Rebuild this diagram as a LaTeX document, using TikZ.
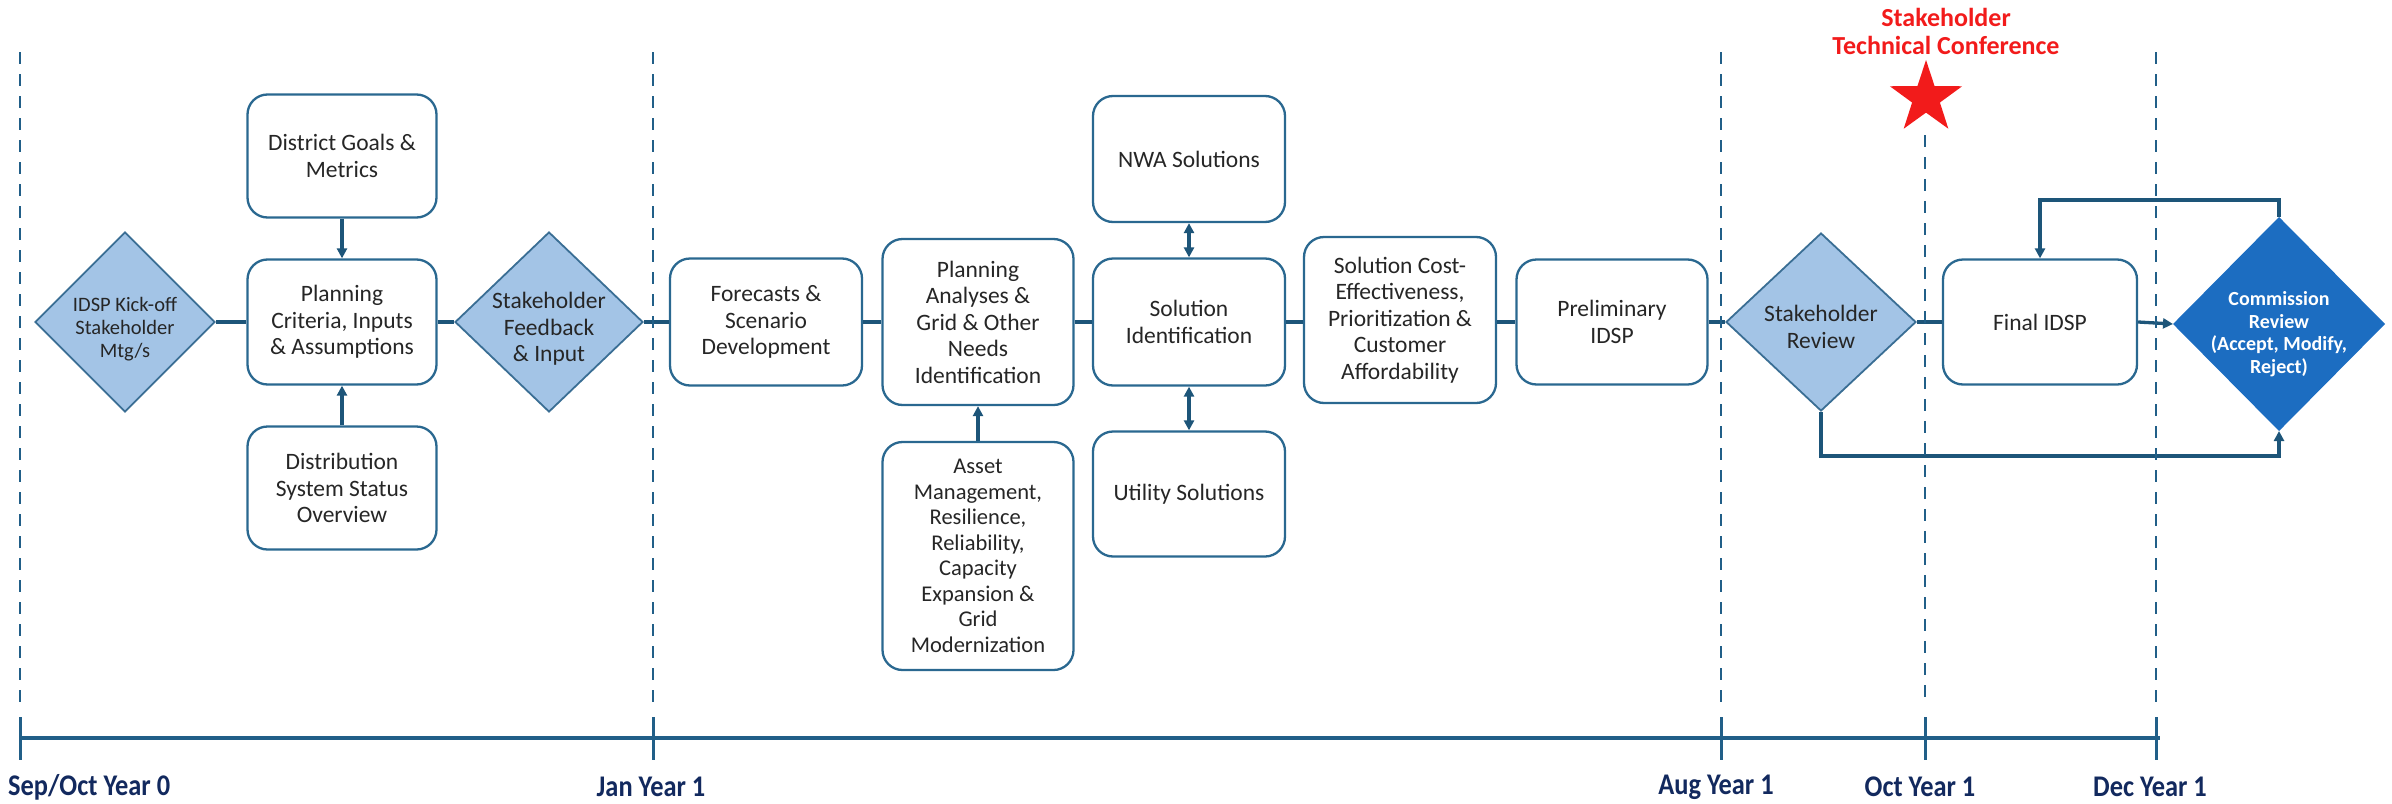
\documentclass[tikz,border=0pt]{standalone}
\usepackage{fontspec}
\setmainfont{Carlito}
\newfontfamily\datefont[FakeStretch=0.88]{Carlito}
\usetikzlibrary{shapes.geometric,arrows.meta}
\definecolor{bordc}{HTML}{2A6890}
\definecolor{linec}{HTML}{1D5579}
\definecolor{dashc}{HTML}{215F88}
\definecolor{lightfill}{HTML}{A3C4E6}
\definecolor{lightbord}{HTML}{3A6E94}
\definecolor{darkfill}{HTML}{1C6DC1}
\definecolor{navy}{HTML}{12295E}
\definecolor{txt}{HTML}{262626}
\definecolor{redc}{HTML}{F21B1B}
\tikzset{
  box/.style={draw=bordc, line width=2.3pt, rounded corners=20pt, fill=white, text=txt,
    align=center, font=\fontsize{23.5}{26.5}\selectfont, inner sep=0pt},
  dia/.style={shape=diamond, draw=lightbord, line width=1.8pt, fill=lightfill, inner sep=0pt},
  dtext/.style={text=txt, align=center, font=\fontsize{23.5}{26.5}\selectfont},
  conn/.style={draw=linec, line width=3.3pt},
  arr/.style={conn, -{Triangle[length=10pt,width=10pt]}},
  darr/.style={conn, {Triangle[length=10pt,width=10pt]}-{Triangle[length=10pt,width=10pt]}},
  vdash/.style={draw=dashc, line width=2.5pt, dash pattern=on 12pt off 10pt},
  tline/.style={draw=dashc, line width=3.5pt},
  datelbl/.style={text=navy, font=\datefont\fontsize{30}{34}\selectfont\bfseries, inner sep=0pt},
}
\begin{document}
\begin{tikzpicture}[x=1pt,y=-1pt]
\useasboundingbox (0,0) rectangle (2392,803);

% nodes
\node[dia, minimum width=180pt, minimum height=180pt,
  label={[text=txt, align=center, font=\fontsize{20.5}{23}\selectfont, yshift=-7pt]center:{IDSP Kick-off\\Stakeholder\\Mtg/s}}]
  (kick) at (125,322) {};
\node[box, minimum width=189pt, minimum height=123pt] (goals) at (342,156) {District Goals \&\\Metrics};
\node[box, minimum width=189pt, minimum height=125pt] (crit) at (342,322) {Planning\\Criteria, Inputs\\\& Assumptions};
\node[box, minimum width=189pt, minimum height=123pt] (dist) at (342,488) {Distribution\\System Status\\Overview};
\node[dia, minimum width=188pt, minimum height=180pt,
  label={[dtext, yshift=-7pt]center:{Stakeholder\\Feedback\\\& Input}}]
  (feed) at (549,322) {};
\node[box, minimum width=192pt, minimum height=127pt] (fore) at (766,322) {Forecasts \&\\Scenario\\Development};
\node[box, minimum width=191pt, minimum height=166pt] (pa) at (978,322) {Planning\\Analyses \&\\Grid \& Other\\Needs\\Identification};
\node[box, minimum width=191pt, minimum height=228pt, font=\fontsize{22.5}{25.5}\selectfont] (asset) at (978,556)
  {Asset\\Management,\\Resilience,\\Reliability,\\Capacity\\Expansion \&\\Grid\\Modernization};
\node[box, minimum width=192pt, minimum height=126pt] (nwa) at (1189,159) {NWA Solutions};
\node[box, minimum width=192pt, minimum height=127pt] (sid) at (1189,322) {Solution\\Identification};
\node[box, minimum width=192pt, minimum height=125pt] (util) at (1189,494) {Utility Solutions};
\node[box, minimum width=192pt, minimum height=166pt] (cost) at (1400,320) {Solution Cost-\\Effectiveness,\\Prioritization \&\\Customer\\Affordability};
\node[box, minimum width=191pt, minimum height=125pt] (prelim) at (1612,322) {Preliminary\\IDSP};
\node[dia, minimum width=190pt, minimum height=178pt,
  label={[dtext, yshift=-5pt]center:{Stakeholder\\Review}}]
  (srev) at (1821,322) {};
\node[box, minimum width=194pt, minimum height=125pt] (final) at (2040,322) {Final IDSP};
\node[shape=diamond, draw=darkfill, line width=2pt, fill=darkfill, inner sep=0pt,
  minimum width=210pt, minimum height=212pt,
  label={[text=white, align=center, font=\fontsize{20}{22.5}\selectfont\bfseries, yshift=-10pt]center:{Commission\\Review\\(Accept, Modify,\\Reject)}}]
  (comm) at (2279,324) {};

% main flow
\draw[conn] (kick.east) -- (crit.west);
\draw[conn] (crit.east) -- (feed.west);
\draw[conn] (feed.east) -- (fore.west);
\draw[conn] (fore.east) -- (pa.west);
\draw[conn] (pa.east) -- (sid.west);
\draw[conn] (sid.east) -- (cost.west |- sid.east);
\draw[conn] (cost.east |- prelim.west) -- (prelim.west);
\draw[conn] (prelim.east) -- (srev.west);
\draw[conn] (srev.east) -- (final.west);
\draw[arr] (final.east) -- (comm.west);

\draw[arr] (goals.south) -- (crit.north);
\draw[arr] (dist.north) -- (crit.south);
\draw[arr] (asset.north) -- (pa.south);
\draw[darr] (nwa.south) -- (sid.north);
\draw[darr] (sid.south) -- (util.north);

\draw[arr] (comm.north) -- (comm.north |- 0,200) -| (final.north);
\draw[arr] (srev.south) -- (srev.south |- 0,456) -| (comm.south);

% timeline
\coordinate (t0) at (20,738);
\coordinate (t1) at (653,738);
\coordinate (t2) at (1721,738);
\coordinate (t3) at (1925,738);
\coordinate (t4) at (2156,738);
\draw[tline] (t0) -- ([xshift=4pt]t4);
\foreach \c in {t0,t1,t2,t3,t4}{
  \draw[draw=dashc, line width=3pt] ([yshift=21pt]\c) -- ([yshift=-22pt]\c);
}
\draw[vdash] (20,52) -- (20,705);
\draw[vdash] (653,52) -- (653,705);
\draw[vdash] (1721,52) -- (1721,705);
\draw[vdash] (1925,135) -- (1925,705);
\draw[vdash] (2156,52) -- (2156,705);

\node[datelbl, anchor=west] (l0) at (8,787) {Sep/Oct Year 0};
\node[datelbl] (l1) at (651,787) {Jan Year 1};
\node[datelbl] (l2) at (1716,787) {Aug Year 1};
\node[datelbl] (l3) at (1920,787) {Oct Year 1};
\node[datelbl] (l4) at (2150,787) {Dec Year 1};

% conference marker
\node[star, star points=5, star point ratio=2.6, fill=redc, minimum size=76pt, inner sep=0pt] (star) at (1926,98) {};
\node[text=redc, align=center, font=\fontsize{26}{28}\selectfont\bfseries] (conf) at (1946,31) {Stakeholder\\Technical Conference};
\end{tikzpicture}
\end{document}
